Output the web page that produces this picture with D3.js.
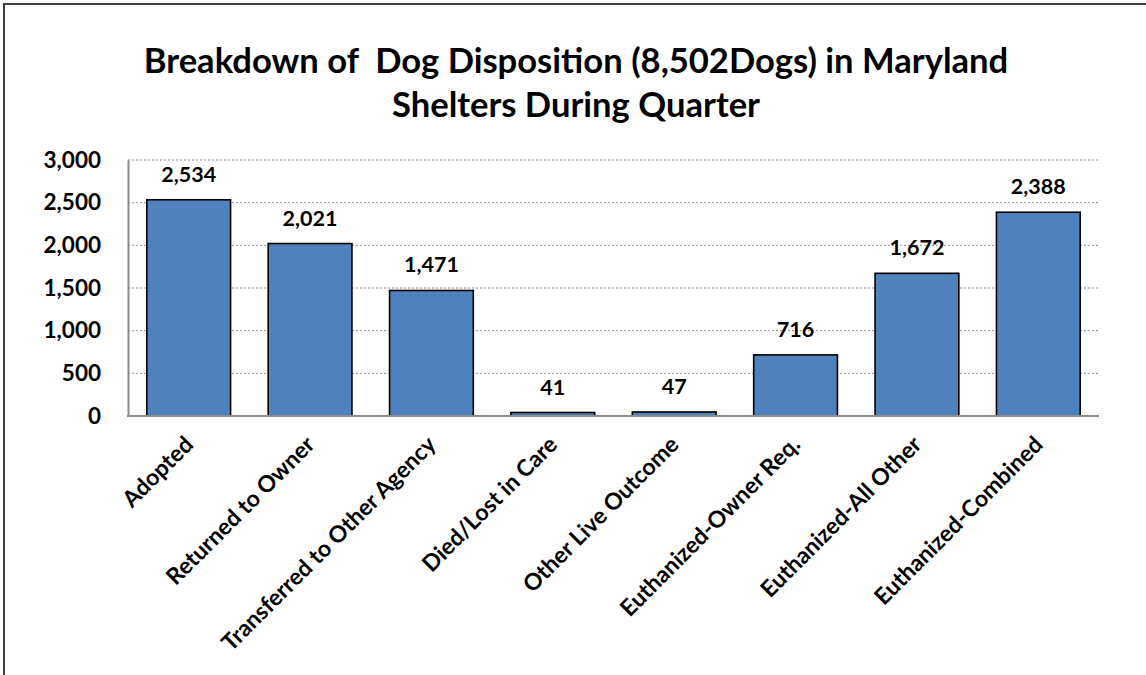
<!DOCTYPE html>
<html><head><meta charset="utf-8">
<script src="https://cdn.jsdelivr.net/npm/d3@7"></script>
<style>body{margin:0;background:#fff}svg{display:block}text{font-family:Lato,"Open Sans",sans-serif;font-weight:bold;fill:#000}</style>
</head><body>
<svg id="c" width="1146" height="675"></svg>
<script>
const categories = ["Adopted","Returned to Owner","Transferred to Other Agency","Died/Lost in Care","Other Live Outcome","Euthanized-Owner Req.","Euthanized-All Other","Euthanized-Combined"];
const values = [2534, 2021, 1471, 41, 47, 716, 1672, 2388];
const yTicks = [0, 500, 1000, 1500, 2000, 2500, 3000];
const titleLines = ["Breakdown of  Dog Disposition (8,502Dogs) in Maryland", "Shelters During Quarter"];

const svg = d3.select("#c");
const L = 128, R = 1099, T = 160, B = 416;
svg.append("rect").attr("x",4).attr("y",4).attr("width",1300).attr("height",900)
  .attr("fill","none").attr("stroke","#404040").attr("stroke-width",2);

const x = d3.scaleBand().domain(categories).range([L, R]).paddingInner(0.31).paddingOuter(0.155);
const y = d3.scaleLinear().domain([0, 3000]).range([B, T]);

// gridlines
svg.append("g").selectAll("line").data(yTicks.filter(d=>d>0)).join("line")
  .attr("x1", L).attr("x2", R).attr("y1", d=>y(d)).attr("y2", d=>y(d))
  .attr("stroke","#8c8c8c").attr("stroke-width",1).attr("stroke-dasharray","2,2");

// y axis
const ya = svg.append("g").attr("transform",`translate(${L},0)`).call(d3.axisLeft(y).tickValues(yTicks).tickFormat(d3.format(",")).tickSize(0).tickPadding(27));
ya.select(".domain").attr("stroke","#8c8c8c").attr("stroke-width",2);
ya.selectAll("text").attr("font-size",22.5).attr("font-family","Lato").attr("font-weight","900").attr("fill","#000");

// bars
svg.append("g").selectAll("rect").data(values).join("rect")
  .attr("x",(d,i)=>x(categories[i])).attr("width",x.bandwidth())
  .attr("y",d=>y(d)).attr("height",d=>B-y(d))
  .attr("fill","#4f81bd").attr("stroke","#000").attr("stroke-width",1.6);

// x axis line
svg.append("line").attr("x1",L-1).attr("x2",R).attr("y1",B).attr("y2",B).attr("stroke","#8c8c8c").attr("stroke-width",2);

// data labels
svg.append("g").selectAll("text").data(values).join("text")
  .attr("x",(d,i)=>x(categories[i])+x.bandwidth()/2).attr("y",d=>y(d)-18)
  .attr("text-anchor","middle").attr("font-size",21.5).attr("font-weight","900").text(d=>d3.format(",")(d));

// x labels
svg.append("g").selectAll("text").data(categories).join("text")
  .attr("transform",d=>`translate(${x(d)+x.bandwidth()/2+6},${B+30}) rotate(-45)`)
  .attr("text-anchor","end").attr("font-size",23).text(d=>d);

// title
svg.append("g").selectAll("text").data(titleLines).join("text")
  .attr("x",576).attr("y",(d,i)=>73+i*44).attr("text-anchor","middle")
  .attr("font-size",34.6).attr("font-weight","900").style("white-space","pre").text(d=>d);
</script>
</body></html>
